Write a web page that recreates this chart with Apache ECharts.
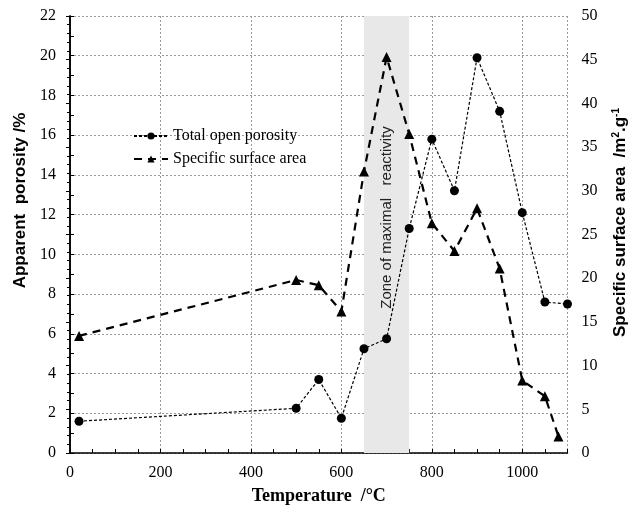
<!DOCTYPE html>
<html>
<head>
<meta charset="utf-8">
<script src="https://cdn.jsdelivr.net/npm/echarts@6/dist/echarts.min.js"></script>
<style>
  html, body { margin: 0; padding: 0; background: #fff; }
  #chart { width: 637px; height: 510px; }
</style>
</head>
<body>
<div id="chart"></div>
<script>
// temperatures (°C)
var porosityTemps = [20, 500, 550, 600, 650, 700, 750, 800, 850, 900, 950, 1000, 1050, 1100];
var porosity = [1.6, 2.25, 3.7, 1.75, 5.25, 5.75, 11.3, 15.8, 13.2, 19.9, 17.2, 12.1, 7.6, 7.5];
var surfaceTemps = [20, 500, 550, 600, 650, 700, 750, 800, 850, 900, 950, 1000, 1050, 1080];
var surface = [13.4, 19.8, 19.2, 16.2, 32.2, 45.3, 36.5, 26.3, 23.1, 28.0, 21.1, 8.3, 6.5, 1.9];
var zoneRange = [650, 750];
var zoneLabel = 'Zone of maximal   reactivity';

var serif = '"Liberation Serif", "Times New Roman", serif';
var sans = '"Liberation Sans", Arial, sans-serif';

function pairs(xs, ys) {
    return xs.map(function (x, i) { return [x, ys[i]]; });
}

var chart = echarts.init(document.getElementById('chart'));

chart.setOption({
    animation: false,
    backgroundColor: '#fff',
    grid: { left: 70, right: 69, top: 16, bottom: 57 },
    legend: {
        left: 128, top: 123,
        orient: 'vertical',
        itemWidth: 34, itemHeight: 9, itemGap: 7,
        textStyle: { fontFamily: serif, fontSize: 16, color: '#000' },
        data: ['Total open porosity', 'Specific surface area']
    },
    xAxis: [
        {
            // ticks every 50, labels every 200
            type: 'value', min: 0, max: 1100, interval: 50,
            name: 'Temperature  /°C', nameLocation: 'middle', nameGap: 34,
            nameTextStyle: { fontFamily: serif, fontWeight: 'bold', fontSize: 18, color: '#000' },
            axisLine: { lineStyle: { color: '#000', width: 1.5 } },
            axisTick: { show: true, inside: true, length: 4, lineStyle: { color: '#000' } },
            axisLabel: {
                fontFamily: serif, fontSize: 16, color: '#000', margin: 12,
                formatter: function (v) { return v % 200 === 0 ? v : ''; }
            },
            splitLine: { show: false }
        },
        {
            // grid lines only
            type: 'value', min: 0, max: 1100, interval: 200,
            axisLine: { show: false }, axisTick: { show: false }, axisLabel: { show: false },
            splitLine: { lineStyle: { color: '#999', type: [2, 2] } }
        }
    ],
    yAxis: [
        {
            type: 'value', min: 0, max: 22, interval: 2,
            name: 'Apparent  porosity /%', nameLocation: 'middle', nameGap: 37,
            nameTextStyle: { fontFamily: sans, fontWeight: 'bold', fontSize: 17, color: '#000', padding: [0, 0, 0, 68] },
            axisLine: { show: true, lineStyle: { color: '#000', width: 1.5 } },
            axisTick: { show: true, inside: true, length: 4, lineStyle: { color: '#000' } },
            minorTick: { show: true, splitNumber: 2, length: 4, lineStyle: { color: '#000' } },
            axisLabel: { fontFamily: serif, fontSize: 16, color: '#000', margin: 14 },
            splitLine: { lineStyle: { color: '#999', type: [2, 2] } }
        },
        {
            type: 'value', min: 0, max: 50, interval: 5, position: 'right',
            name: '{a|Specific surface area  /m}{s|2}{a|.g}{s|-1}', nameLocation: 'middle', nameGap: 44,
            nameRotate: 90,
            nameTextStyle: {
                padding: [0, 0, 0, 24],
                rich: {
                    a: { fontFamily: sans, fontWeight: 'bold', fontSize: 17, color: '#000' },
                    s: { fontFamily: sans, fontWeight: 'bold', fontSize: 10, color: '#000', verticalAlign: 'top', padding: [0, 0, 8, 0] }
                }
            },
            axisLine: { show: true, lineStyle: { color: '#000', width: 1.5 } },
            axisTick: { show: true, inside: true, length: 4, lineStyle: { color: '#000' } },
            minorTick: { show: true, splitNumber: 5, length: 3, lineStyle: { color: '#000' } },
            axisLabel: { fontFamily: serif, fontSize: 16, color: '#000', margin: 14 },
            splitLine: { show: false }
        }
    ],
    series: [
        {
            name: 'Total open porosity', type: 'line',
            xAxisIndex: 0, yAxisIndex: 0, clip: false,
            data: pairs(porosityTemps, porosity),
            symbol: 'circle', symbolSize: 9,
            itemStyle: { color: '#000' },
            lineStyle: { color: '#000', width: 1.2, type: [3, 2] },
            markArea: {
                silent: true,
                itemStyle: { color: '#e8e8e8' },
                label: {
                    show: true, position: 'inside', rotate: 90, offset: [17, 0],
                    fontFamily: sans, fontSize: 15, color: '#222',
                    formatter: zoneLabel
                },
                data: [[{ xAxis: zoneRange[0] }, { xAxis: zoneRange[1] }]]
            },
            z: 3
        },
        {
            name: 'Specific surface area', type: 'line',
            xAxisIndex: 0, yAxisIndex: 1, clip: false,
            data: pairs(surfaceTemps, surface),
            symbol: 'triangle', symbolSize: 10,
            itemStyle: { color: '#000' },
            lineStyle: { color: '#000', width: 2.2, type: [8, 6] },
            z: 3
        }
    ]
});
</script>
</body>
</html>
